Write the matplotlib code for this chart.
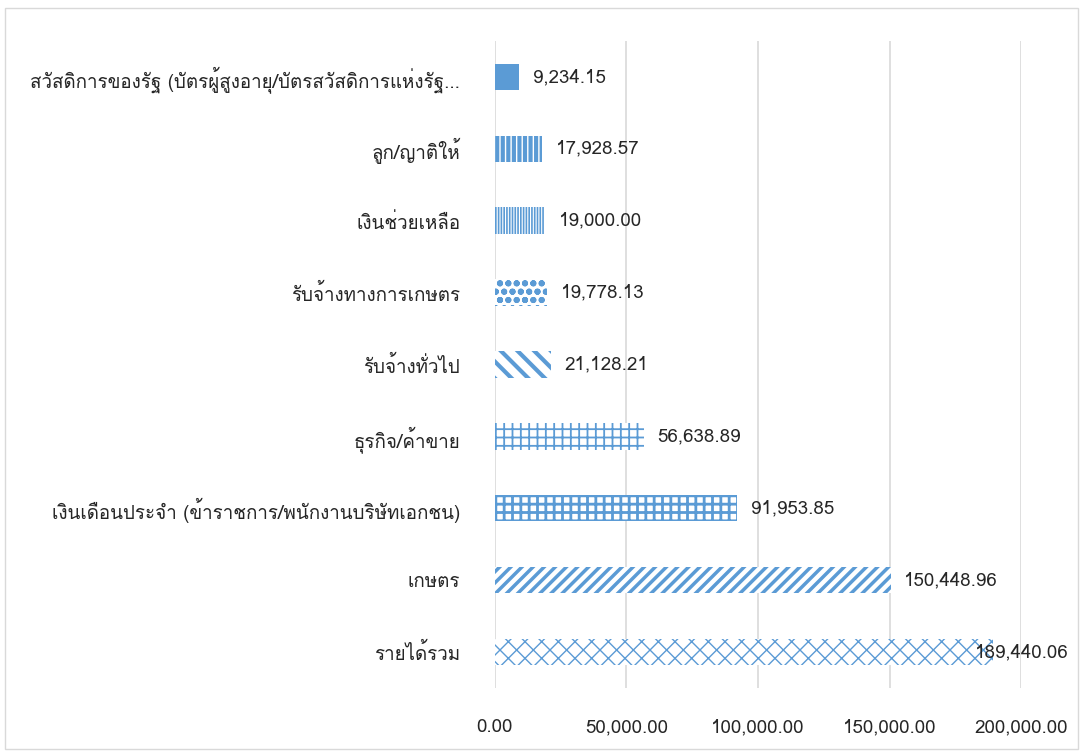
import matplotlib
matplotlib.use("Agg")
import matplotlib.pyplot as plt
from matplotlib import font_manager
from matplotlib.ft2font import FT2Font
from matplotlib.patches import Rectangle

# data (bottom to top)
categories = [
    "รายได้รวม",
    "เกษตร",
    "เงินเดือนประจำ (ข้าราชการ/พนักงานบริษัทเอกชน)",
    "ธุรกิจ/ค้าขาย",
    "รับจ้างทั่วไป",
    "รับจ้างทางการเกษตร",
    "เงินช่วยเหลือ",
    "ลูก/ญาติให้",
    "สวัสดิการของรัฐ (บัตรผู้สูงอายุ/บัตรสวัสดิการแห่งรัฐ...",
]
values = [189440.06, 150448.96, 91953.85, 56638.89, 21128.21,
          19778.13, 19000.00, 17928.57, 9234.15]
x_ticks = [0, 50000, 100000, 150000, 200000]

hatches = ["xx", "///", "++", "++", "\\\\", "oo", "||||||", "|||", None]
hatch_lw = [1.0, 2.5, 2.0, 1.3, 3.0, 2.0, 1.2, 3.0, 1.0]
blue = "#5B9BD5"


def find_thai_font():
    # pick any installed family that covers Thai
    for f in font_manager.fontManager.ttflist:
        try:
            if 0x0E01 in FT2Font(f.fname).get_charmap():
                return f.name
        except Exception:
            pass
    return None


thai = find_thai_font()
families = ([thai] if thai else []) + ["DejaVu Sans"]
plt.rcParams["font.family"] = families
plt.rcParams["hatch.linewidth"] = 2.0

fig = plt.figure(figsize=(10.83, 7.55), dpi=100)
ax = fig.add_axes([0.457, 0.089, 0.4858, 0.8567])

y = list(range(len(categories)))
for yi, v, h, hl in zip(y, values, hatches, hatch_lw):
    if h is None:
        ax.barh(yi, v, height=0.37, color=blue, edgecolor=blue, lw=0, zorder=3)
    else:
        plt.rcParams["hatch.linewidth"] = hl
        bars = ax.barh(yi, v, height=0.37, facecolor="white", edgecolor=blue,
                       hatch=h, lw=0, zorder=3)
        for b in bars:
            if hasattr(b, "set_hatch_linewidth"):
                b.set_hatch_linewidth(hl)

# value labels
for yi, v in zip(y, values):
    txt = f"{v:,.2f}"
    if v > 170000:
        ax.text(218000, yi, txt, ha="right", va="center", fontsize=13.5,
                color="#262626", clip_on=False, zorder=4)
    else:
        ax.text(v + 5200, yi, txt, ha="left", va="center", fontsize=13.5,
                color="#262626", zorder=4)

ax.set_xlim(0, 200000)
ax.set_ylim(-0.5, len(categories) - 0.5)
ax.set_yticks(y)
ax.set_yticklabels(categories, fontsize=13.5, color="#262626")
ax.set_xticks(x_ticks)
ax.set_xticklabels([f"{t:,.2f}" for t in x_ticks], fontsize=13.5, color="#262626")
ax.tick_params(axis="both", length=0)
ax.tick_params(axis="y", pad=25)
ax.tick_params(axis="x", pad=22)
ax.grid(axis="x", color="#D9D9D9", lw=1.2, zorder=0)
for s in ax.spines.values():
    s.set_visible(False)

# outer chart border
fig.patches.append(Rectangle((0.005, 0.008), 0.99, 0.982, transform=fig.transFigure,
                             fill=False, edgecolor="#D9D9D9", lw=1))

fig.savefig("out.png", dpi=100)
